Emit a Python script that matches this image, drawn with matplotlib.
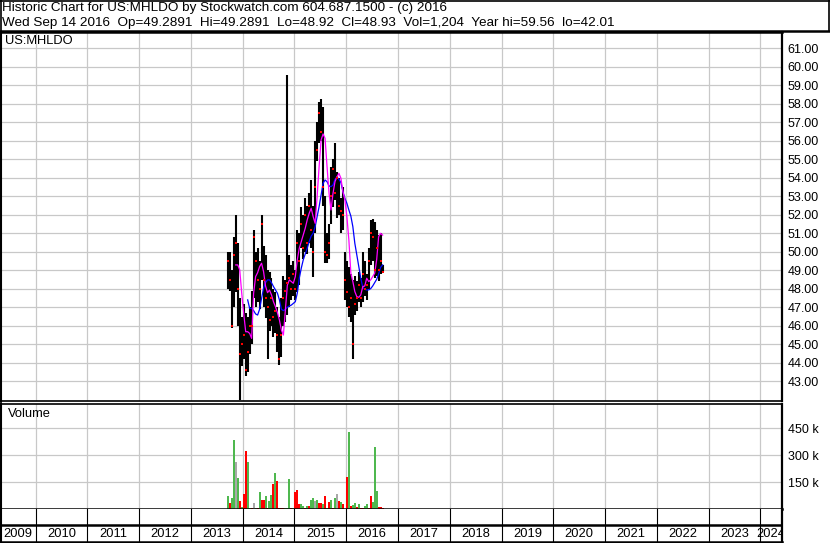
import matplotlib
matplotlib.use('Agg')
import matplotlib.pyplot as plt
import matplotlib.dates as mdates
import numpy as np
import pandas as pd
from matplotlib.lines import Line2D

plt.rcParams['font.family'] = ['Liberation Sans', 'DejaVu Sans']

# ---------------- data ----------------
symbol = 'US:MHLDO'
title_line1 = 'Historic Chart for US:MHLDO by Stockwatch.com 604.687.1500 - (c) 2016'
title_line2 = ('Wed Sep 14 2016  Op=49.2891  Hi=49.2891  Lo=48.92  Cl=48.93  '
               'Vol=1,204  Year hi=59.56  lo=42.01')

dates = pd.date_range('2013-09-18', '2016-09-14', freq='14D')   # 79 bars

high = [50.0, 50.0, 49.0, 50.8, 52.0, 50.5, 47.5, 46.5, 47.2, 46.7,
        46.5, 47.0, 47.9, 51.2, 50.0, 50.2, 49.5, 52.0, 50.3, 49.8,
        49.0, 48.9, 48.6, 48.0, 47.8, 47.0, 46.5, 47.5, 48.7, 48.5,
        59.56, 49.8, 49.3, 49.5, 49.0, 51.2, 51.0, 52.4, 52.0, 52.9,
        52.5, 53.2, 53.9, 52.5, 56.0, 57.0, 58.1, 58.26, 57.8, 53.0,
        51.0, 51.5, 54.6, 55.0, 55.86, 54.3, 54.0, 52.9, 53.5, 50.0,
        49.5, 49.2, 48.8, 48.5, 48.7, 48.4, 48.9, 48.6, 50.0, 49.5,
        48.8, 50.2, 51.7, 51.76, 51.6, 51.2, 50.9, 51.0, 49.29]
low = [48.0, 47.9, 45.9, 47.0, 47.8, 46.0, 42.01, 43.8, 44.2, 43.3,
       43.5, 44.5, 45.0, 47.5, 47.0, 47.3, 46.9, 48.5, 47.0, 46.4,
       44.2, 45.7, 46.0, 45.4, 45.6, 44.6, 43.9, 44.3, 46.0, 46.2,
       46.6, 47.0, 47.4, 47.6, 47.4, 47.8, 48.2, 50.2, 49.6, 50.0,
       49.9, 50.5, 50.2, 48.66, 51.0, 54.9, 55.9, 56.0, 52.5, 49.4,
       49.4, 49.6, 51.5, 52.4, 52.8, 51.8, 52.0, 51.0, 51.2, 47.4,
       47.0, 46.5, 46.2, 44.2, 46.6, 46.8, 47.3, 47.0, 47.3, 47.6,
       47.4, 48.0, 49.3, 49.5, 48.6, 48.7, 48.4, 48.8, 48.92]
close = [49.5, 48.5, 46.0, 49.8, 50.5, 48.0, 44.5, 45.0, 45.5, 43.6,
         44.6, 46.0, 46.0, 50.8, 49.5, 48.5, 48.0, 51.5, 48.5, 47.5,
         47.0, 46.3, 47.5, 46.5, 46.8, 45.5, 44.2, 45.5, 47.5, 47.9,
         48.3, 48.6, 48.0, 48.8, 48.0, 50.5, 49.5, 51.5, 50.2, 52.0,
         50.5, 52.5, 51.2, 50.0, 53.5, 55.5, 57.5, 56.5, 53.5, 50.0,
         49.8, 50.5, 53.0, 54.5, 53.2, 54.0, 52.5, 52.2, 52.0, 48.5,
         47.8, 47.0, 47.5, 45.0, 47.2, 47.5, 48.2, 47.5, 48.8, 48.0,
         48.2, 49.5, 51.0, 50.8, 49.0, 50.2, 49.0, 49.5, 48.93]

nan = float('nan')
ma_fast = [nan] * 4 + [
    49.29, 49.29, 49.02, 47.76, 46.67, 45.68, 45.68, 45.59, 45.32, 47.76,
    48.66, 48.87, 49.2, 49.38, 48.93, 48.15, 47.79, 47.93, 47.67, 47.3,
    47.03, 46.71, 46.31, 45.77, 45.5, 46.85, 48.2, 48.48, 48.39, 48.3,
    48.66, 49.56, 50.19, 50.55, 50.91, 51.27, 51.72, 52.08, 52.35, 51.9,
    51.54, 52.98, 54.6, 56.04, 56.37, 56.13, 54.6, 53.16, 52.26, 53.16,
    53.79, 54.06, 54.24, 53.97, 53.25, 52.8, 51.9, 50.64, 48.84, 48.39,
    47.85, 47.58, 47.54, 47.67, 48.12, 48.15, 48.57, 48.39, 48.48, 48.66,
    48.84, 49.56, 50.82, 51.0, 50.9]
ma_slow = [nan] * 10 + [
    47.4, 46.94, 46.94, 46.82, 46.64, 46.58, 46.89, 47.48, 48.03, 48.33,
    48.48, 48.48, 48.33, 48.12, 47.94, 47.76, 47.4, 46.89, 46.82, 46.89,
    47.0, 47.07, 47.12, 47.21, 47.3, 47.76, 48.57, 49.11, 49.56, 49.88,
    50.19, 50.55, 50.85, 51.0, 51.36, 51.9, 52.44, 53.07, 53.7, 53.88,
    53.79, 53.56, 53.52, 53.61, 53.92, 54.03, 53.92, 53.74, 53.25, 52.89,
    52.62, 52.26, 51.93, 51.36, 50.46, 49.83, 49.2, 48.57, 48.08, 47.97,
    47.94, 47.94, 48.01, 48.15, 48.33, 48.51, 48.8, 49.16, 49.29]

volume_k = [71, 36, 59, 382, 263, 175, 46, 13, 84, 321,
            263, 5, 8, 32, 5, 5, 94, 48, 48, 71,
            5, 44, 79, 140, 198, 156, 5, 5, 5, 3,
            5, 167, 5, 3, 94, 104, 29, 29, 15, 8,
            19, 15, 52, 63, 44, 48, 36, 33, 29, 71,
            5, 40, 52, 5, 63, 83, 44, 40, 28, 2,
            180, 429, 15, 25, 36, 10, 29, 5, 5, 15,
            29, 3, 75, 40, 344, 100, 10, 12, 8]
volume_dir = ['up', 'down', 'up', 'up', 'flat', 'up', 'down', 'up', 'down', 'down',
              'up', 'up', 'down', 'flat', 'up', 'down', 'up', 'down', 'down', 'up',
              'down', 'up', 'up', 'down', 'up', 'down', 'down', 'down', 'down', 'up',
              'up', 'up', 'down', 'up', 'down', 'down', 'down', 'up', 'up', 'down',
              'up', 'down', 'up', 'up', 'flat', 'up', 'down', 'down', 'up', 'down',
              'up', 'down', 'up', 'down', 'up', 'flat', 'down', 'up', 'down', 'down',
              'down', 'up', 'down', 'up', 'up', 'down', 'up', 'down', 'down', 'up',
              'up', 'down', 'down', 'up', 'up', 'up', 'down', 'down', 'down']

price_ticks = list(range(43, 62))
volume_ticks = [150000, 300000, 450000]
volume_tick_labels = ['150 k', '300 k', '450 k']
years = list(range(2009, 2025))

# ---------------- layout ----------------
W, H = 830, 543
fig = plt.figure(figsize=(W / 100, H / 100), dpi=100)
fig.patch.set_facecolor('white')


def fx(px):
    return px / W


def fy(py):
    return 1 - py / H


XL, XR = 0.5, 782
ax_p = fig.add_axes([fx(XL), fy(401), fx(XR - XL), (401 - 32) / H])
ax_v = fig.add_axes([fx(XL), fy(509), fx(XR - XL), (509 - 403.5) / H])
ax_y = fig.add_axes([fx(XL), fy(542), fx(XR - XL), (542 - 509) / H])

xmin = mdates.date2num(pd.Timestamp('2009-04-28'))
xmax = mdates.date2num(pd.Timestamp('2024-06-02'))
dn = mdates.date2num(dates)
year_bounds = [mdates.date2num(pd.Timestamp(f'{y}-01-01')) for y in years[1:]]

grid_c = '#c8c8c8'
for ax in (ax_p, ax_v, ax_y):
    ax.set_xlim(xmin, xmax)
    ax.set_xticks(year_bounds)
    ax.tick_params(axis='x', length=0, labelbottom=False)
    for s in ax.spines.values():
        s.set_color('black')

# price panel
ax_p.set_ylim(41.935, 61.88)
ax_p.set_yticks(price_ticks)
ax_p.set_yticklabels([f'{v:.2f}' for v in price_ticks])
ax_p.yaxis.tick_right()
ax_p.tick_params(axis='y', length=0, pad=4, labelsize=9)
ax_p.grid(True, color=grid_c, lw=0.9)
ax_p.set_axisbelow(True)
ax_p.vlines(dn, low, high, color='black', lw=1.5, zorder=2)
ax_p.plot(dn, ma_slow, color='#0000ff', lw=0.9, zorder=3)
ax_p.plot(dn, ma_fast, color='#ff00ff', lw=0.9, zorder=3)
ax_p.plot(dn, close, ls='none', marker='s', ms=1.9, mew=0, color='#ff0000', zorder=4)
ax_p.spines['left'].set_linewidth(1.5)
ax_p.spines['right'].set_linewidth(1.6)
ax_p.spines['top'].set_linewidth(1.8)
ax_p.spines['bottom'].set_linewidth(1.2)
ax_p.text(0.006, 0.976, symbol, transform=ax_p.transAxes, fontsize=9.3,
          ha='left', va='center')

# volume panel
vcol = {'up': '#4fb84f', 'down': '#ff0000', 'flat': '#a8a8a8'}
ax_v.set_ylim(0, 588000)
ax_v.set_yticks(volume_ticks)
ax_v.set_yticklabels(volume_tick_labels)
ax_v.yaxis.tick_right()
ax_v.tick_params(axis='y', length=0, pad=4, labelsize=9)
ax_v.grid(True, color=grid_c, lw=0.9)
ax_v.set_axisbelow(True)
ax_v.bar(dn, np.array(volume_k) * 1000, width=14.5,
         color=[vcol[d] for d in volume_dir], lw=0, zorder=2)
ax_v.spines['left'].set_linewidth(1.5)
ax_v.spines['right'].set_linewidth(1.6)
ax_v.spines['top'].set_linewidth(1.2)
ax_v.spines['bottom'].set_linewidth(1.8)
ax_v.text(0.009, 0.9, 'Volume', transform=ax_v.transAxes, fontsize=9.3,
          ha='left', va='center')

# year strip
ax_y.set_ylim(0, 2)
ax_y.set_yticks([])
ax_y.axhline(1.05, color='black', lw=1.8)
for b in year_bounds:
    ax_y.axvline(b, color='black', lw=0.8)
edges = [xmin] + year_bounds + [xmax]
for i, y in enumerate(years):
    c = 0.5 * (edges[i] + edges[i + 1])
    ax_y.text(c, 0.5, str(y), ha='center', va='center', fontsize=9.3,
              clip_on=True)
ax_y.spines['left'].set_linewidth(1.5)
ax_y.spines['right'].set_linewidth(1.6)
ax_y.spines['bottom'].set_linewidth(1.8)
ax_y.spines['top'].set_visible(False)


# header box
def hline(y, xa, xb, lw):
    fig.add_artist(Line2D([fx(xa), fx(xb)], [fy(y), fy(y)], color='black', lw=lw))


def vline(x, ya, yb, lw):
    fig.add_artist(Line2D([fx(x), fx(x)], [fy(ya), fy(yb)], color='black', lw=lw))


hline(0.5, 0, W, 1.2)
hline(30.8, 0, W, 1.8)
vline(0.6, 0, 542, 1.2)
vline(829.3, 0, 31, 1.2)

fig.text(fx(2), fy(8.5), title_line1, fontsize=9.7, ha='left', va='center')
fig.text(fx(2), fy(23), title_line2, fontsize=9.7, ha='left', va='center')

fig.savefig('out.png', dpi=100, facecolor='white')
